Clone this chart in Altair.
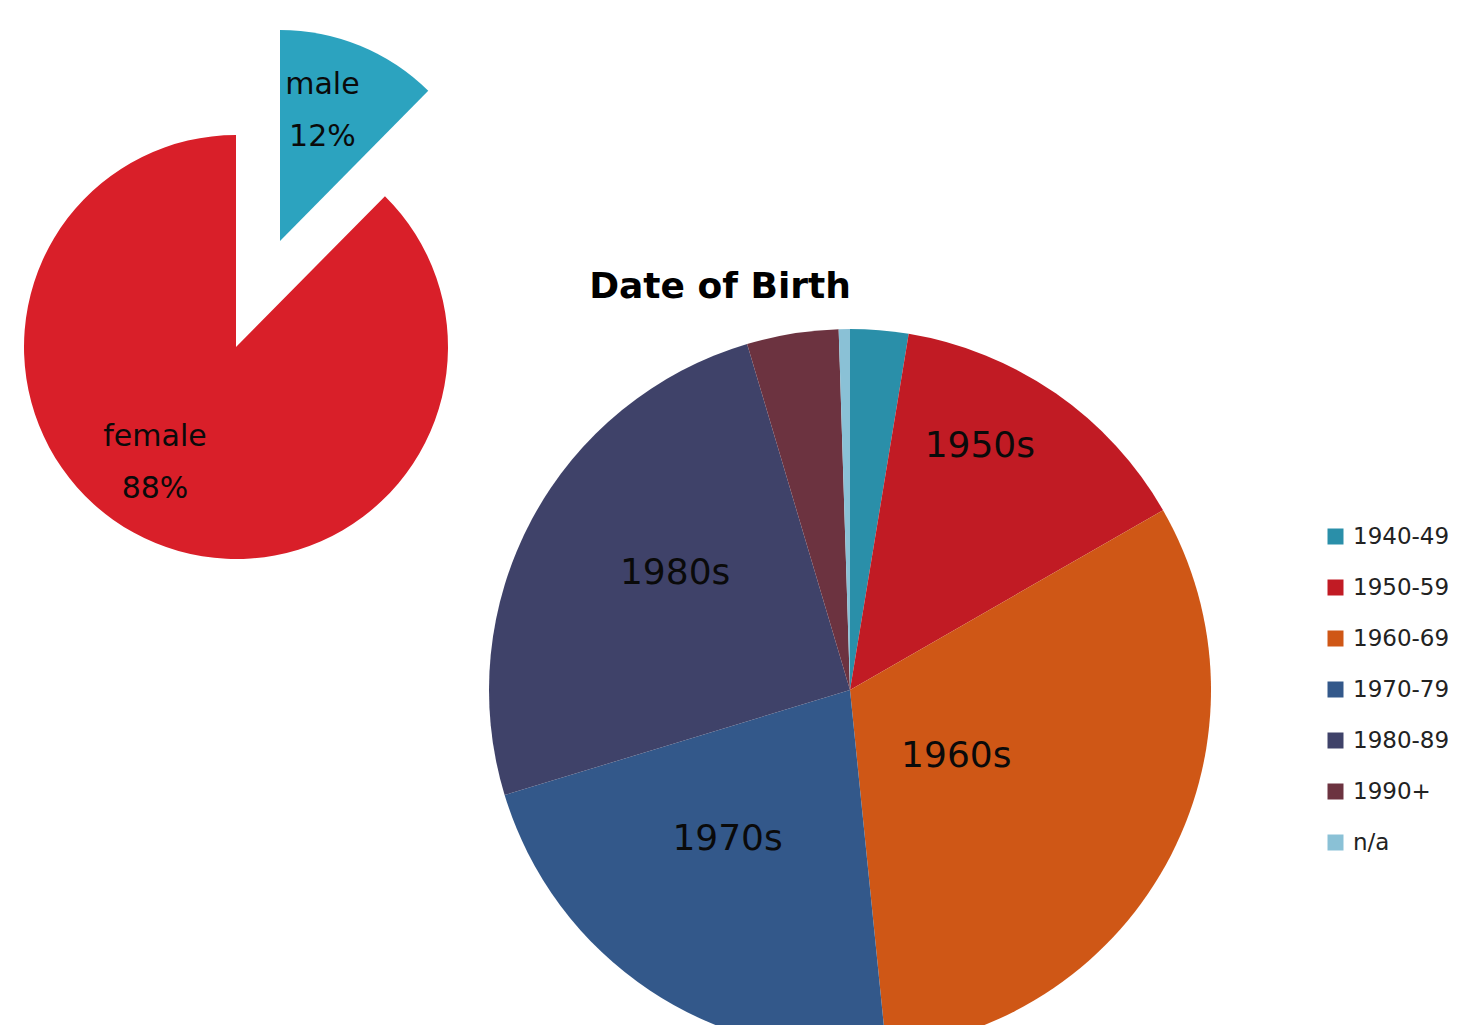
import altair as alt
import pandas as pd

# ---- data ----
gender_names = ["male", "female"]
gender_share = [12.4, 87.6]
gender_order = [0, 1]

dob_groups = ["1940-49", "1950-59", "1960-69", "1970-79", "1980-89", "1990+", "n/a"]
dob_share = [2.6, 14.1, 31.7, 21.9, 25.1, 4.1, 0.5]
dob_order = [0, 1, 2, 3, 4, 5, 6]
dob_labels = ["", "1950s", "1960s", "1970s", "1980s", "", ""]
dob_colors = ["#2a8fa9", "#c11b24", "#cf5716", "#33588a", "#3f4269", "#6c3340", "#8ac1d6"]

male_color = "#2ca3bf"
female_color = "#d91f29"
FONT = "DejaVu Sans"

# label styling: radius from pie centre and small nudges (pixels)
gender_label_style = {
    "male": dict(radius=138, dx=-10, dy=-28),
    "female": dict(radius=137, dx=-29, dy=-37),
}
dob_label_style = {
    "1950s": dict(radius=277, dx=-28, dy=-16),
    "1960s": dict(radius=124, dx=-4, dy=9),
    "1970s": dict(radius=192, dx=-16, dy=-11),
    "1980s": dict(radius=211, dx=11, dy=-17),
}

gender_df = pd.DataFrame({"gender": gender_names, "share": gender_share, "ord": gender_order})
dob_df = pd.DataFrame({"group": dob_groups, "share": dob_share, "ord": dob_order, "lbl": dob_labels})

GENDER_C = {"female": (228, 339), "male": (272, 233)}
DOB_C = (842, 682)

# ---- gender pie ----
gbase = alt.Chart(gender_df).encode(
    theta=alt.Theta("share:Q", stack=True),
    order=alt.Order("ord:Q"),
    detail="gender:N",
)
female_arc = gbase.mark_arc(outerRadius=212, color=female_color).encode(
    x=alt.value(GENDER_C["female"][0]), y=alt.value(GENDER_C["female"][1]),
    opacity=alt.condition("datum.gender == 'female'", alt.value(1), alt.value(0)),
)
male_arc = gbase.mark_arc(outerRadius=211, color=male_color).encode(
    x=alt.value(GENDER_C["male"][0]), y=alt.value(GENDER_C["male"][1]),
    opacity=alt.condition("datum.gender == 'male'", alt.value(1), alt.value(0)),
)

gtext_base = alt.Chart(gender_df).transform_window(
    cum="sum(share)", sort=[alt.SortField("ord")], frame=[None, 0]
).transform_calculate(
    mid="datum.cum - datum.share / 2",
    lbl="datum.gender + '\\n' + format(datum.share, '.0f') + '%'",
)
gender_texts = []
for g in gender_names:
    st = gender_label_style[g]
    gender_texts.append(
        gtext_base.transform_filter(alt.datum.gender == g).mark_text(
            font=FONT, fontSize=30, lineBreak="\n", lineHeight=52, color="#0a0a0a",
            radius=st["radius"], dx=st["dx"], dy=st["dy"],
        ).encode(
            x=alt.value(GENDER_C[g][0]), y=alt.value(GENDER_C[g][1]),
            theta=alt.Theta("mid:Q", stack=False),
            text="lbl:N",
        )
    )
gender_layer = alt.layer(female_arc, male_arc, *gender_texts)

# ---- date of birth pie ----
dob_arc = alt.Chart(dob_df).mark_arc(outerRadius=361).encode(
    theta=alt.Theta("share:Q", stack=True),
    order=alt.Order("ord:Q"),
    x=alt.value(DOB_C[0]), y=alt.value(DOB_C[1]),
    color=alt.Color(
        "group:N",
        scale=alt.Scale(domain=dob_groups, range=dob_colors),
        sort=dob_groups,
        legend=alt.Legend(
            title=None, orient="none", legendX=1316, legendY=517,
            symbolType="square", symbolSize=256, symbolStrokeWidth=0,
            labelFont=FONT, labelFontSize=23, labelColor="#222222",
            labelOffset=6, rowPadding=27,
        ),
    ),
)
dtext_base = alt.Chart(dob_df).transform_window(
    cum="sum(share)", sort=[alt.SortField("ord")], frame=[None, 0]
).transform_calculate(mid="datum.cum - datum.share / 2")
dob_texts = []
for lab in [l for l in dob_labels if l]:
    st = dob_label_style[lab]
    dob_texts.append(
        dtext_base.transform_filter(alt.datum.lbl == lab).mark_text(
            font=FONT, fontSize=36, color="#0a0a0a",
            radius=st["radius"], dx=st["dx"], dy=st["dy"],
        ).encode(
            x=alt.value(DOB_C[0]), y=alt.value(DOB_C[1]),
            theta=alt.Theta("mid:Q", stack=False),
            text="lbl:N",
        )
    )
dob_layer = alt.layer(dob_arc, *dob_texts)

# ---- title ----
title_layer = alt.Chart(pd.DataFrame({"t": ["Date of Birth"]})).mark_text(
    font=FONT, fontSize=36, fontWeight="bold", align="center",
    baseline="alphabetic", color="#000000",
).encode(text="t:N", x=alt.value(712), y=alt.value(290))

chart = alt.layer(gender_layer, dob_layer, title_layer).resolve_scale(
    theta="independent", color="independent"
).properties(
    width=1441, height=1017,
    autosize=alt.AutoSizeParams(type="none"),
    padding=0,
    background="white",
).configure_view(strokeWidth=0)

chart.save("out.html", embed_options={"renderer": "svg", "actions": False})
